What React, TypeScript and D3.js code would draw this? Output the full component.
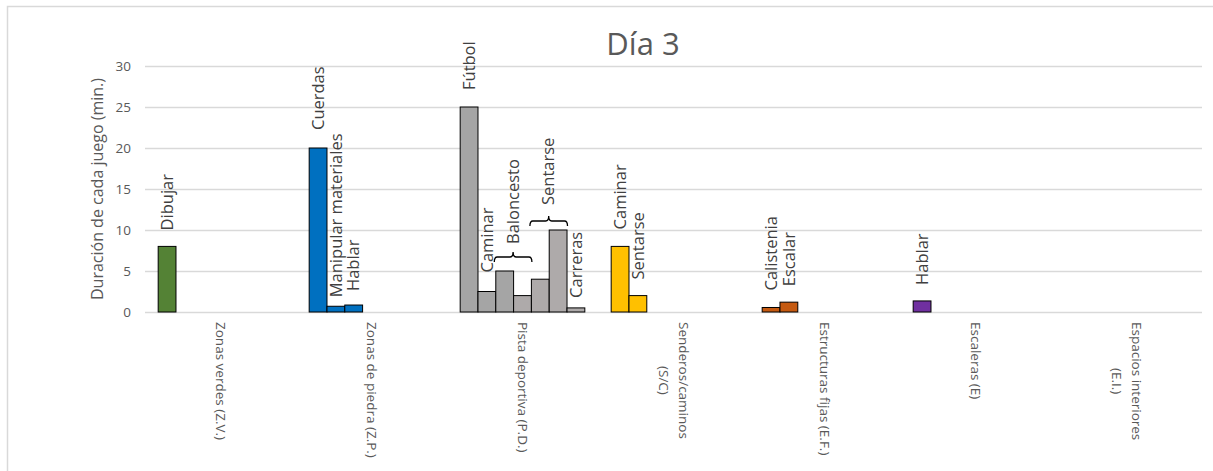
import React, { useEffect, useRef } from "react";
import * as d3 from "d3";

// ---------- data ----------
const categories = [
  "Zonas verdes (Z.V.)",
  "Zonas de piedra (Z.P.)",
  "Pista deportiva (P.D.)",
  "Senderos/caminos\n(S/C)",
  "Estructuras fijas (E.F.)",
  "Escaleras (E)",
  "Espacios interiores\n(E.I.)",
];
const yTicks = [0, 5, 10, 15, 20, 25, 30];
const slots = [0, 1, 2, 3, 4, 5, 6];

const zvActivities = ["Dibujar"];
const zvMinutes = [8];
const zpActivities = ["Cuerdas", "Manipular materiales", "Hablar"];
const zpMinutes = [20, 0.7, 0.85];
const pdActivities = ["Fútbol", "Caminar", "", "", "", "", "Carreras"];
const pdMinutes = [25, 2.5, 5, 2, 4, 10, 0.5];
const pdGroupLabels = ["Baloncesto", "Sentarse"];
const pdGroupFirst = [2, 4];
const pdGroupLast = [3, 5];
const scActivities = ["Caminar", "Sentarse"];
const scMinutes = [8, 2];
const efActivities = ["Calistenia", "Escalar"];
const efMinutes = [0.55, 1.2];
const eActivities = ["Hablar"];
const eMinutes = [1.35];
const eiActivities: string[] = [];
const eiMinutes: number[] = [];

const activitiesByCategory = [zvActivities, zpActivities, pdActivities, scActivities, efActivities, eActivities, eiActivities];
const minutesByCategory = [zvMinutes, zpMinutes, pdMinutes, scMinutes, efMinutes, eMinutes, eiMinutes];

// ---------- styles ----------
const categoryFill = ["#548235", "#0070C0", "#A5A5A5", "#FFC000", "#C55A11", "#7030A0", "#A5A5A5"];
const pdFill = ["#A5A5A5", "#A5A5A5", "#A5A5A5", "#AEAAAA", "#AEAAAA", "#AEAAAA", "#AEAAAA"];
// vertical gap (px) between bar top and its label, per category / slot
const labelGap = [[16], [18, 9, 14], [17, 19, 0, 0, 0, 0, 10], [17, 16], [17, 16], [16], []];
const bracketRise = [14, 9];
const bracketLabelGap = [13, 16];

const FONT = "'Open Sans', 'Noto Sans', sans-serif";
const W = 1213;
const H = 471;
const plotLeft = 145;
const plotRight = 1202;
const plotTop = 66;
const plotBottom = 312;
const LABEL_SIZE = 16.5;

export default function App() {
  const ref = useRef<SVGSVGElement | null>(null);

  useEffect(() => {
    const svg = d3.select(ref.current);
    svg.selectAll("*").remove();

    const x0 = d3.scaleBand<string>().domain(categories).range([plotLeft, plotRight]).paddingInner(0).paddingOuter(0);
    const x1 = d3.scaleBand<number>().domain(slots).range([0, x0.bandwidth()]).paddingInner(0).paddingOuter(0.74);
    const y = d3.scaleLinear().domain([0, 30]).range([plotBottom, plotTop]);

    // chart border
    svg.append("path")
      .attr("d", `M7.5,${H + 2} L7.5,6.5 L${W + 2},6.5`)
      .attr("fill", "none")
      .attr("stroke", "#D9D9D9")
      .attr("stroke-width", 1.5);

    // title
    svg.append("text")
      .attr("x", 643)
      .attr("y", 55)
      .attr("text-anchor", "middle")
      .attr("font-family", FONT)
      .attr("font-size", 31)
      .attr("fill", "#595959")
      .text("Día 3");

    // gridlines
    svg.append("g").selectAll("line").data(yTicks).join("line")
      .attr("x1", plotLeft).attr("x2", plotRight)
      .attr("y1", (d) => Math.round(y(d)) + 0.5).attr("y2", (d) => Math.round(y(d)) + 0.5)
      .attr("stroke", "#D9D9D9").attr("stroke-width", 1.3);

    // y tick labels
    svg.append("g").selectAll("text").data(yTicks).join("text")
      .attr("x", 131).attr("y", (d) => y(d)).attr("dy", "0.35em")
      .attr("text-anchor", "end")
      .attr("font-family", FONT).attr("font-size", 13.5).attr("fill", "#595959")
      .text((d) => String(d));

    // y axis title
    svg.append("text")
      .attr("transform", `translate(97,${(plotTop + plotBottom) / 2}) rotate(-90)`)
      .attr("dy", "0.35em")
      .attr("text-anchor", "middle")
      .attr("font-family", FONT).attr("font-size", 16).attr("fill", "#595959")
      .text("Duración de cada juego (min.)");

    // bars + labels
    categories.forEach((cat, ci) => {
      const g = svg.append("g").attr("transform", `translate(${x0(cat)},0)`);
      const vals = minutesByCategory[ci];
      const names = activitiesByCategory[ci];
      g.selectAll("rect").data(vals).join("rect")
        .attr("x", (_d, i) => x1(i)!)
        .attr("y", (d) => y(d))
        .attr("width", x1.bandwidth())
        .attr("height", (d) => y(0) - y(d))
        .attr("fill", (_d, i) => (ci === 2 ? pdFill[i] : categoryFill[ci]))
        .attr("stroke", "#000")
        .attr("stroke-width", 1);

      names.forEach((name, i) => {
        if (!name) return;
        const cx = x1(i)! + x1.bandwidth() / 2;
        const top = y(vals[i]) - labelGap[ci][i];
        g.append("text")
          .attr("transform", `translate(${cx},${top}) rotate(-90)`)
          .attr("dy", "0.35em")
          .attr("text-anchor", "start")
          .attr("font-family", FONT).attr("font-size", LABEL_SIZE).attr("fill", "#404040")
          .text(name);
      });

      if (ci === 2) {
        pdGroupLabels.forEach((lab, k) => {
          const a = x1(pdGroupFirst[k])! - 1.5;
          const b = x1(pdGroupLast[k])! + x1.bandwidth() + 0.5;
          const maxV = d3.max(vals.slice(pdGroupFirst[k], pdGroupLast[k] + 1))!;
          const by = y(maxV) - bracketRise[k];
          const m = (a + b) / 2;
          g.append("path")
            .attr("d", `M${a},${by + 5} Q${a},${by} ${a + 3},${by} L${m - 3},${by} Q${m},${by} ${m},${by - 5} Q${m},${by} ${m + 3},${by} L${b - 3},${by} Q${b},${by} ${b},${by + 5}`)
            .attr("fill", "none").attr("stroke", "#000").attr("stroke-width", 1.3);
          g.append("text")
            .attr("transform", `translate(${m},${by - bracketLabelGap[k]}) rotate(-90)`)
            .attr("dy", "0.35em")
            .attr("text-anchor", "start")
            .attr("font-family", FONT).attr("font-size", LABEL_SIZE).attr("fill", "#404040")
            .text(lab);
        });
      }
    });

    // category labels (rotated 90°, lines centred in block)
    categories.forEach((cat) => {
      const lines = cat.split("\n");
      const cx = x0(cat)! + x0.bandwidth() / 2;
      const lh = 20;
      const t = svg.append("text")
        .attr("font-family", FONT).attr("font-size", 13.5).attr("fill", "#595959")
        .attr("text-anchor", "middle");
      const spans = lines.map((ln, li) =>
        t.append("tspan").attr("x", 0).attr("y", li * lh - ((lines.length - 1) * lh) / 2).attr("dy", "0.35em").text(ln)
      );
      const maxLen = d3.max(spans, (s) => (s.node() as SVGTSpanElement).getComputedTextLength()) || 0;
      spans.forEach((s) => s.attr("x", maxLen / 2));
      t.attr("transform", `translate(${cx},322) rotate(90)`);
    });
  }, []);

  return (
    <svg
      ref={ref}
      width={W}
      height={H}
      style={{ position: "absolute", left: 0, top: 0, background: "#fff" }}
    />
  );
}
